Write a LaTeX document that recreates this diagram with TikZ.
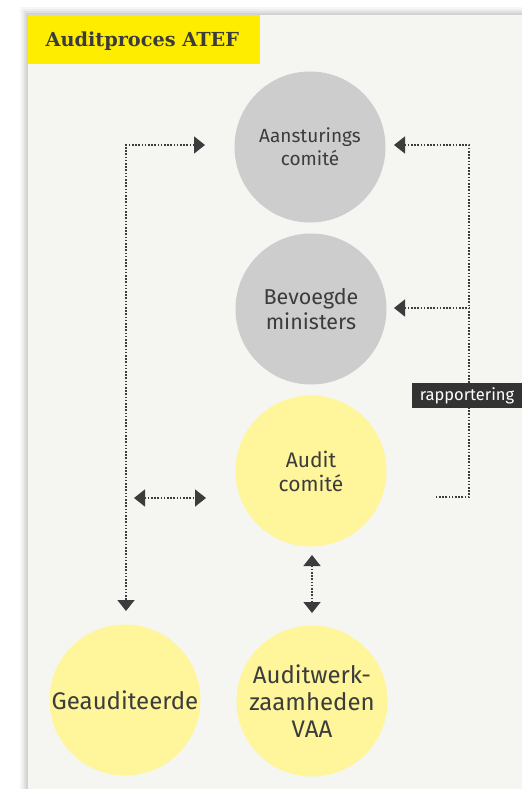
\documentclass[tikz,border=0pt]{standalone}
\usepackage{fontspec}
\setmainfont{Fira Sans}
\newfontfamily\titlefont{DejaVu Serif}
\usetikzlibrary{arrows.meta}
\definecolor{panel}{HTML}{F5F5F1}
\definecolor{ink}{HTML}{3C3C3C}
\definecolor{greybub}{HTML}{CDCDCD}
\definecolor{yellowbub}{HTML}{FFF59A}
\definecolor{titlebar}{HTML}{FFED00}
\definecolor{tagbg}{HTML}{333333}
\tikzset{
  bubble/.style={circle, minimum size=151pt, inner sep=0pt, align=center, text=ink},
  greyb/.style={bubble, fill=greybub},
  yellowb/.style={bubble, fill=yellowbub},
  tip/.tip={Triangle[length=11pt, width=17pt]},
  dotline/.style={draw=ink, line width=1.6pt, dash pattern=on 1.6pt off 1.6pt},
  tagbox/.style={fill=tagbg, text=white, inner sep=0pt, minimum width=110pt, minimum height=25pt, font=\fontsize{16.5}{18}\selectfont}
}
\begin{document}
\begin{tikzpicture}[x=1pt, y=-1pt]
  % page and panel with a soft shadow
  \useasboundingbox (0,0) rectangle (522,789);
  \fill[white] (0,0) rectangle (522,789);
  \foreach \d/\o in {8/0.03,6/0.04,4/0.05,2/0.06}
    \fill[black, opacity=\o] (28-\d,15-\d) rectangle (522,789);
  \fill[panel] (28,15) rectangle (522,789);

  % title bar
  \fill[titlebar] (28,15) rectangle (260,64);
  \node[anchor=west, text=ink, font=\titlefont\bfseries\fontsize{19.3}{22}\selectfont] (title) at (42,41) {Auditproces ATEF};

  % bubbles
  \node[greyb, font=\fontsize{19}{23}\selectfont] (aans) at (310,147) {Aansturings\\comité};
  \node[greyb, font=\fontsize{21.5}{25}\selectfont] (minis) at (311,309) {Bevoegde\\ministers};
  \node[yellowb, font=\fontsize{21}{24}\selectfont] (audit) at (311,471) {Audit\\comité};
  \node[yellowb, font=\fontsize{24}{27}\selectfont] (geau) at (125,700) {Geauditeerde};
  \node[yellowb, font=\fontsize{24}{27}\selectfont] (werk) at (312,701) {Auditwerk-\\zaamheden\\VAA};

  % connector ends
  \coordinate (lt) at (205,145);
  \coordinate (lc) at (126,145);
  \coordinate (lb) at (126,611);
  \coordinate (rt) at (394,145);
  \coordinate (rc) at (469,145);
  \coordinate (rm) at (394,308);
  \coordinate (rj) at (469,308);
  \coordinate (rb) at (469,497);
  \coordinate (re) at (435,497);
  \coordinate (ha) at (134,498);
  \coordinate (hb) at (206,498);
  \coordinate (va) at (312,555);
  \coordinate (vb) at (312,613);

  % audit committee to the audited and the chair
  \draw[dotline, {tip}-{tip}] (lt) -- (lc) -- (lb);
  % reporting lines
  \draw[dotline, {tip}-] (rt) -- (rc) -- (rb) -- (re);
  \draw[dotline, {tip}-] (rm) -- (rj);
  \draw[dotline, {tip}-{tip}] (ha) -- (hb);
  \draw[dotline, {tip}-{tip}] (va) -- (vb);

  % reporting tag
  \node[tagbox] (tag) at (467,395.5) {rapportering};
\end{tikzpicture}
\end{document}
